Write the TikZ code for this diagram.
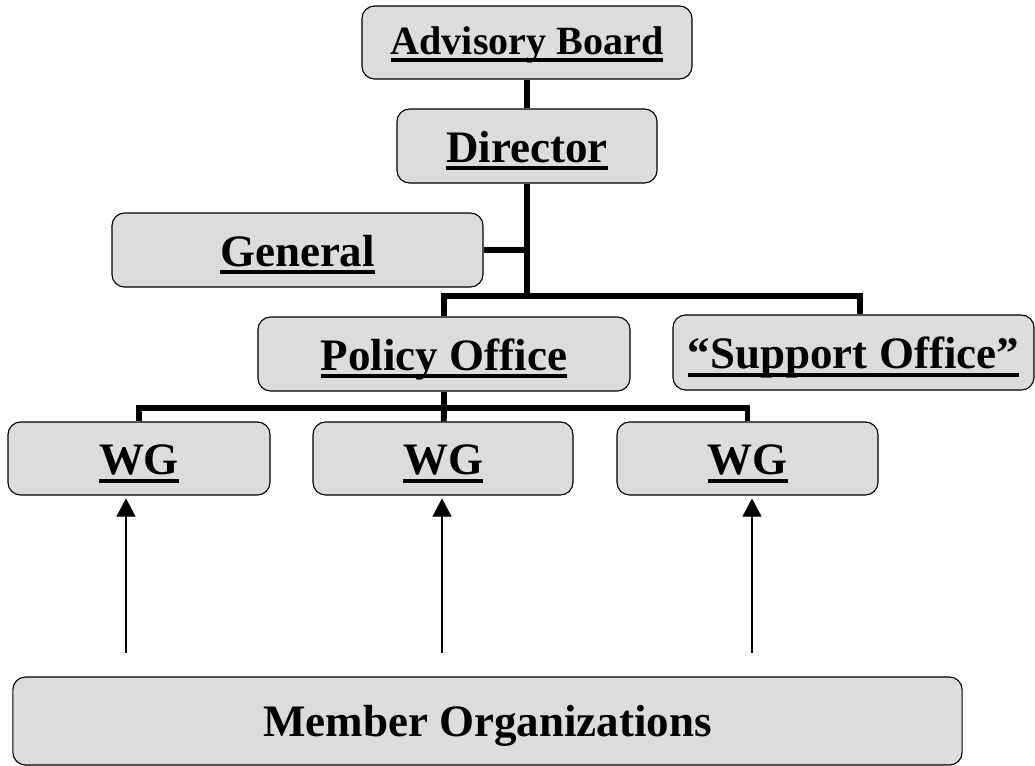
\documentclass[tikz,border=0pt]{standalone}
\usepackage{fontspec}
\setmainfont{Liberation Serif}
\usetikzlibrary{arrows.meta}
\definecolor{boxgray}{RGB}{220,220,220}
\newcommand{\undl}[1]{\setbox0\hbox{#1}\rlap{\rule[-5.6pt]{\wd0}{2.9pt}}\box0}

\begin{document}
\begin{tikzpicture}
[x=0.025cm,y=-0.025cm,
 box/.style={draw,line width=0.8pt,rounded corners=9pt,fill=boxgray,inner sep=0pt,
   text height=27pt,text depth=3.6pt,font=\bfseries\fontsize{32}{38}\selectfont},
 link/.style={line width=4.2pt},
 up/.style={line width=0.9pt,-{Triangle[width=13.5pt,length=13pt]},shorten >=2pt}]
\useasboundingbox (0,0) rectangle (1035,766);
\node[box,minimum width=8.25cm,minimum height=1.825cm,text height=22pt,text depth=5pt,
  font=\bfseries\fontsize{28.5}{34}\selectfont] (adv) at (527,42.5) {\undl{Advisory Board}};
\node[box,minimum width=6.5cm,minimum height=1.85cm] (dir) at (527,146) {\undl{Director}};
\node[box,minimum width=9.275cm,minimum height=1.85cm] (gen) at (297.5,250) {\undl{General}};
\node[box,minimum width=9.3cm,minimum height=1.85cm] (pol) at (444,354) {\undl{Policy Office}};
\node[box,minimum width=9.025cm,minimum height=1.875cm] (sup) at (853.5,352.5) {\undl{``Support Office''}};
\node[box,minimum width=6.55cm,minimum height=1.825cm] (wg1) at (139,458.5) {\undl{WG}};
\node[box,minimum width=6.5cm,minimum height=1.825cm] (wg2) at (443,458.5) {\undl{WG}};
\node[box,minimum width=6.525cm,minimum height=1.825cm] (wg3) at (747.5,458.5) {\undl{WG}};
\node[box,minimum width=23.725cm,minimum height=2.2cm,text height=22pt,text depth=0pt] (mem) at (487.5,721) {Member Organizations};
\coordinate (j1) at (527,296);
\coordinate (j2) at (444,408);
\coordinate (m1) at (126,653);
\coordinate (m2) at (442,653);
\coordinate (m3) at (752,653);
\draw[link] (adv) -- (dir);
\draw[link] (dir) -- (j1);
\draw[link] (gen) -- (gen -| j1);
\draw[link] (pol.north) |- (j1) -| ([xshift=4.6pt]sup.north);
\draw[link] (pol) -- (j2);
\draw[link] (wg1.north) |- (j2) -| (wg3.north);
\draw[link] (j2) -- (wg2);
\foreach \from/\to in {m1/wg1,m2/wg2,m3/wg3}
\draw[up] (\from) -- (\from |- \to.south);
\end{tikzpicture}
\end{document}
